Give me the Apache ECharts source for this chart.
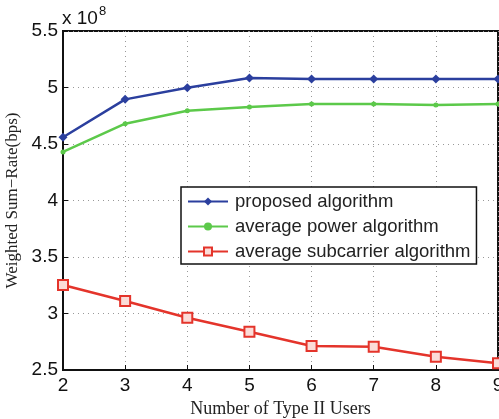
<!DOCTYPE html>
<html><head><meta charset="utf-8">
<script src="https://cdn.jsdelivr.net/npm/echarts@6/dist/echarts.min.js"></script>
<style>html,body{margin:0;padding:0;background:#fff}#c{width:499px;height:419px}</style>
</head><body><div id="c"></div>
<script>
const users = [2, 3, 4, 5, 6, 7, 8, 9];
const proposed = [4.56, 4.895, 4.998, 5.085, 5.075, 5.075, 5.075, 5.075];
const avgPower = [4.43, 4.68, 4.795, 4.827, 4.855, 4.855, 4.845, 4.854];
const avgSub = [3.252, 3.11, 2.963, 2.839, 2.712, 2.706, 2.618, 2.559];
const names = ['proposed algorithm', 'average power algorithm', 'average subcarrier algorithm'];
const yTicks = ['2.5', '3', '3.5', '4', '4.5', '5', '5.5'];

const chart = echarts.init(document.getElementById('c'));
const pair = (a) => users.map((u, i) => [u, a[i]]);
chart.setOption({
  animation: false,
  grid: { left: 63, right: 1, top: 31, bottom: 49, show: true, borderColor: '#111', borderWidth: 2,
    containLabel: false, outerBoundsMode: 'none' },
  xAxis: {
    type: 'value', min: 2, max: 9, interval: 1,
    name: 'Number of Type II Users', nameLocation: 'middle', nameGap: 28,
    nameTextStyle: { fontFamily: 'Liberation Serif', fontSize: 18, color: '#222' },
    axisLine: { lineStyle: { color: '#111', width: 2 } },
    axisTick: { inside: true, length: 5, lineStyle: { color: '#111' } },
    axisLabel: { fontFamily: 'Liberation Sans', fontSize: 19, color: '#111', margin: 6, hideOverlap: false },
    splitLine: { show: true, lineStyle: { color: '#999', type: [1, 4], width: 1 } }
  },
  yAxis: {
    type: 'value', min: 2.5, max: 5.5, interval: 0.5,
    name: 'Weighted Sum\u2212Rate(bps)', nameLocation: 'middle', nameGap: 36,
    nameTextStyle: { fontFamily: 'Liberation Serif', fontSize: 17, color: '#222' },
    axisLine: { lineStyle: { color: '#111', width: 2 } },
    axisTick: { inside: true, length: 5, lineStyle: { color: '#111' } },
    axisLabel: { fontFamily: 'Liberation Sans', fontSize: 19, color: '#111', margin: 5,
      formatter: (v) => { const i = Math.round((v - 2.5) / 0.5); return yTicks[i] !== undefined ? yTicks[i] : ''; } },
    splitLine: { show: true, lineStyle: { color: '#999', type: [1, 4], width: 1 } }
  },
  legend: {
    orient: 'vertical', left: 181, top: 187, width: 292,
    backgroundColor: '#fff', borderColor: '#111', borderWidth: 1.5, borderRadius: 0,
    padding: [5, 6, 3, 6], itemGap: 6, itemWidth: 40, itemHeight: 10,
    textStyle: { fontFamily: 'Liberation Sans', fontSize: 18.5, color: '#222', padding: [0, 0, 0, 2] },
    data: names
  },
  graphic: [{
    type: 'text', left: 62, top: 5,
    style: { text: '{a|x 10}{b|8}', rich: {
      a: { fontFamily: 'Liberation Sans', fontSize: 19, fill: '#111', verticalAlign: 'bottom' },
      b: { fontFamily: 'Liberation Sans', fontSize: 13, fill: '#111', verticalAlign: 'top', padding: [0, 0, 10, 1] } } }
  }],
  series: [
    { name: names[0], type: 'line', data: pair(proposed), symbol: 'diamond', symbolSize: 9,
      lineStyle: { color: '#2b3f9e', width: 2.5 }, itemStyle: { color: '#2b3f9e' } },
    { name: names[1], type: 'line', data: pair(avgPower), symbol: 'circle', symbolSize: 5,
      lineStyle: { color: '#5cc94a', width: 2.5 }, itemStyle: { color: '#5cc94a' } },
    { name: names[2], type: 'line', data: pair(avgSub), symbol: 'rect', symbolSize: 10,
      lineStyle: { color: '#e4342b', width: 2.5 }, itemStyle: { color: '#fbdcd8', borderColor: '#e4342b', borderWidth: 2 } }
  ]
});
</script></body></html>
